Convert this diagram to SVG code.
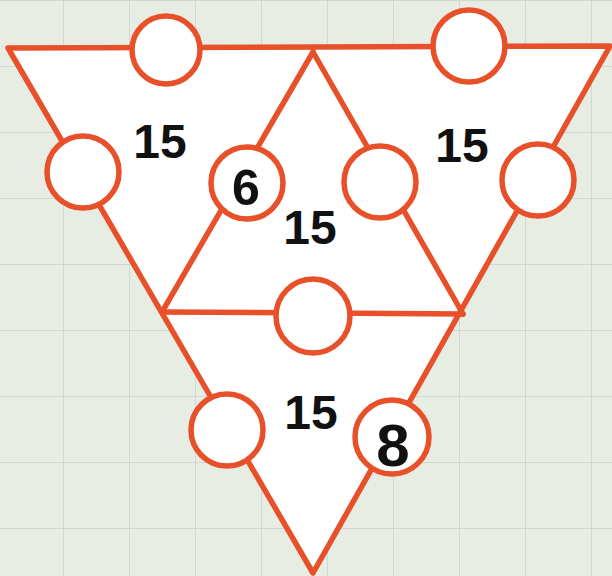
<svg xmlns="http://www.w3.org/2000/svg" width="612" height="576" viewBox="0 0 612 576">
<defs>
<style>
.ln{fill:none;stroke:#e8502a;stroke-width:5.5;stroke-linejoin:round;stroke-linecap:round}
.fr{fill:#ffffff;stroke:#e8502a;stroke-width:5.5;stroke-linejoin:round}
.c{fill:#ffffff;stroke:#e8502a;stroke-width:5.5}
.t{font-family:"Liberation Sans",Arial,sans-serif;font-weight:bold;fill:#111;text-anchor:middle}
.g{stroke:#c9d3d2;stroke-width:1.5}
</style>
<pattern id="grid" width="66" height="66" patternUnits="userSpaceOnUse" x="63" y="0">
<rect width="66" height="66" fill="#e7ede3"/>
<path d="M0 0V66M0 0H66" class="g"/>
</pattern>
</defs>
<rect width="612" height="576" fill="url(#grid)"/>
<g id="frame">
<polygon points="8,48 610,46 313,573" class="fr"/>
</g>
<g id="connectors">
<line x1="313" y1="52" x2="162" y2="312" class="ln"/>
<line x1="313" y1="52" x2="463" y2="314" class="ln"/>
<line x1="162" y1="312" x2="463" y2="314" class="ln"/>
</g>
<g id="n1"><circle cx="166" cy="50" r="34" class="c"/></g>
<g id="n2"><circle cx="469" cy="46" r="36" class="c"/></g>
<g id="n3"><circle cx="83" cy="172" r="36" class="c"/></g>
<g id="n4"><circle cx="538" cy="180" r="36" class="c"/></g>
<g id="n5"><circle cx="247" cy="183" r="36" class="c"/><text x="246" y="205" class="t" font-size="50">6</text></g>
<g id="n6"><circle cx="380" cy="182" r="36" class="c"/></g>
<g id="n7"><circle cx="313" cy="316" r="37" class="c"/></g>
<g id="n8"><circle cx="227" cy="430" r="36" class="c"/></g>
<g id="n9"><circle cx="392" cy="437" r="37" class="c"/><text x="393" y="466" class="t" font-size="60">8</text></g>
<g id="labels">
<text x="160" y="158" class="t" font-size="48">15</text>
<text x="462" y="162" class="t" font-size="48">15</text>
<text x="310" y="244" class="t" font-size="48">15</text>
<text x="311" y="429" class="t" font-size="48">15</text>
</g>
</svg>
